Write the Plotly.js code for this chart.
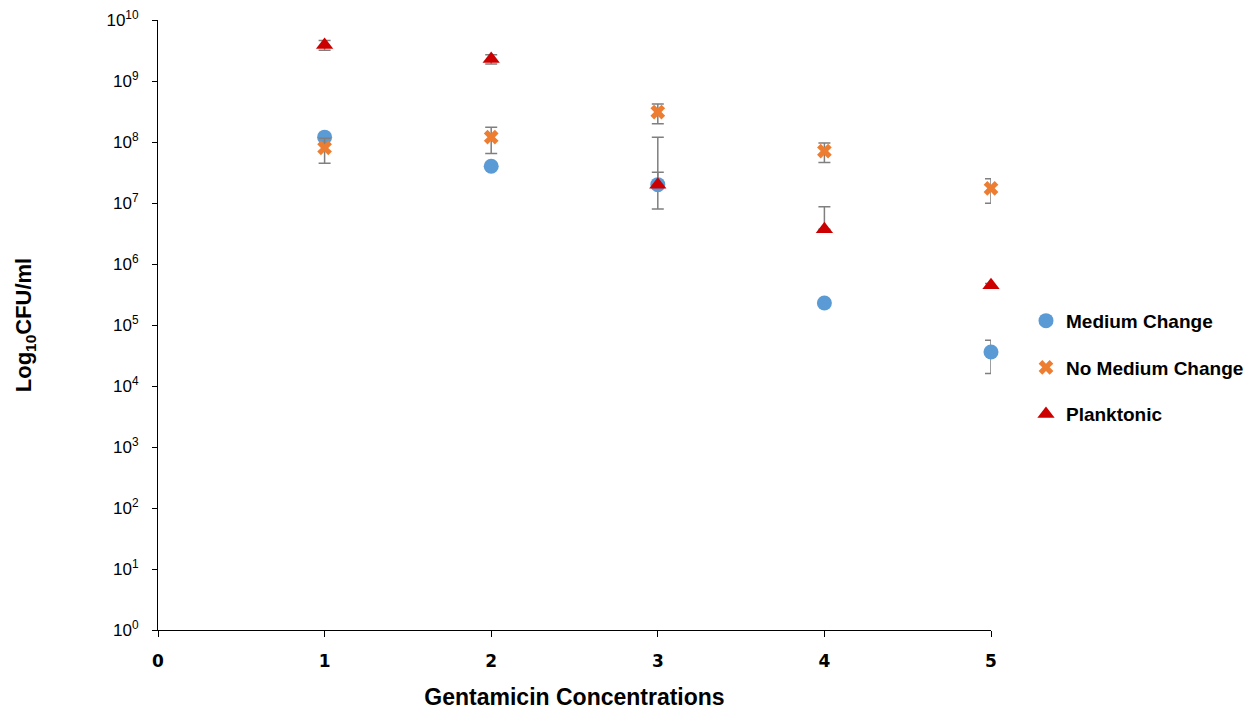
<!DOCTYPE html>
<html>
<head>
<meta charset="utf-8">
<script src="https://cdn.plot.ly/plotly-3.0.1.min.js"></script>
<style>html,body{margin:0;padding:0;background:#fff;}#chart{width:1254px;height:710px;}</style>
</head>
<body>
<div id="chart"></div>
<script>
var concentrations = [1, 2, 3, 4, 5];

var mediumChange = [1.2e8, 4.0e7, 2.0e7, 2.3e5, 3.6e4];
var mediumChangeErr = [1.0e7, 3.0e6, 1.2e7, 2.0e4, 2.0e4];

var noMediumChange = [8.0e7, 1.2e8, 3.1e8, 7.1e7, 1.74e7];
var noMediumChangeErr = [3.5e7, 5.5e7, 1.1e8, 2.5e7, 7.5e6];

var planktonic = [3.9e9, 2.3e9, 2.0e7, 3.7e6, 4.5e5];
var planktonicErrPlus = [7.0e8, 4.0e8, 1.0e8, 5.0e6, 3.0e4];
var planktonicErrMinus = [7.0e8, 4.0e8, 0, 0, 3.0e4];

var yTickVals = [1, 10, 100, 1e3, 1e4, 1e5, 1e6, 1e7, 1e8, 1e9, 1e10];
var yTickText = ['10<sup>0</sup>','10<sup>1</sup>','10<sup>2</sup>','10<sup>3</sup>','10<sup>4</sup>','10<sup>5</sup>','10<sup>6</sup>','10<sup>7</sup>','10<sup>8</sup>','10<sup>9</sup>','10<sup>10</sup>'];
var xTickVals = [0, 1, 2, 3, 4, 5];
var xTickText = ['0', '1', '2', '3', '4', '5'];

var errStyle = {color: '#7f7f7f', thickness: 1.5, width: 6};

var traces = [
  {
    x: concentrations, y: mediumChange, name: 'Medium Change', legendgroup: 'a',
    type: 'scatter', mode: 'markers', cliponaxis: false,
    marker: {symbol: 'circle', size: 15, color: '#5B9BD5'},
    error_y: Object.assign({type: 'data', array: mediumChangeErr, visible: true}, errStyle)
  },
  {
    x: concentrations, y: noMediumChange, name: 'No Medium Change', legendgroup: 'b',
    type: 'scatter', mode: 'markers', cliponaxis: false,
    marker: {symbol: 'x', size: 13, color: '#ED7D31', line: {width: 0}},
    error_y: Object.assign({type: 'data', array: noMediumChangeErr, visible: true}, errStyle)
  },
  {
    x: concentrations, y: planktonic, name: 'Planktonic', legendgroup: 'c',
    type: 'scatter', mode: 'markers', cliponaxis: false,
    marker: {symbol: 'triangle-up', size: 15, color: '#CC0000'},
    error_y: Object.assign({type: 'data', symmetric: false, array: planktonicErrPlus, arrayminus: planktonicErrMinus, visible: true}, errStyle)
  }
];

var layout = {
  width: 1254, height: 710,
  margin: {l: 158, r: 263, t: 20, b: 80, autoexpand: false},
  paper_bgcolor: '#fff', plot_bgcolor: '#fff',
  showlegend: true,
  legend: {
    x: 1.042, y: 0.538, xanchor: 'left', yanchor: 'top',
    traceorder: 'grouped', tracegroupgap: 19,
    font: {family: 'Liberation Sans, Arial, sans-serif', size: 19, color: '#000', weight: 'bold'},
    itemwidth: 30
  },
  xaxis: {
    range: [0, 5], tickvals: xTickVals, ticktext: xTickText,
    showgrid: false, zeroline: false, showline: true, linecolor: '#000', linewidth: 1,
    ticks: 'outside', ticklen: 6, tickcolor: '#000', ticklabelstandoff: 10,
    tickfont: {family: 'DejaVu Sans, Verdana, sans-serif', size: 17, color: '#000', weight: 'bold'},
    title: {text: 'Gentamicin Concentrations', standoff: 19,
      font: {family: 'Liberation Sans, Arial, sans-serif', size: 23, color: '#000', weight: 'bold'}}
  },
  yaxis: {
    type: 'log', range: [0, 10], tickvals: yTickVals, ticktext: yTickText,
    showgrid: false, zeroline: false, showline: true, linecolor: '#000', linewidth: 1,
    ticks: 'outside', ticklen: 5, tickcolor: '#000', ticklabelstandoff: 10,
    tickfont: {family: 'Liberation Sans, Arial, sans-serif', size: 17, color: '#000'},
    title: {text: 'Log<sub>10</sub>CFU/ml', standoff: 68,
      font: {family: 'Liberation Sans, Arial, sans-serif', size: 22, color: '#000', weight: 'bold'}}
  }
};

Plotly.newPlot('chart', traces, layout, {displayModeBar: false, staticPlot: true});
</script>
</body>
</html>
